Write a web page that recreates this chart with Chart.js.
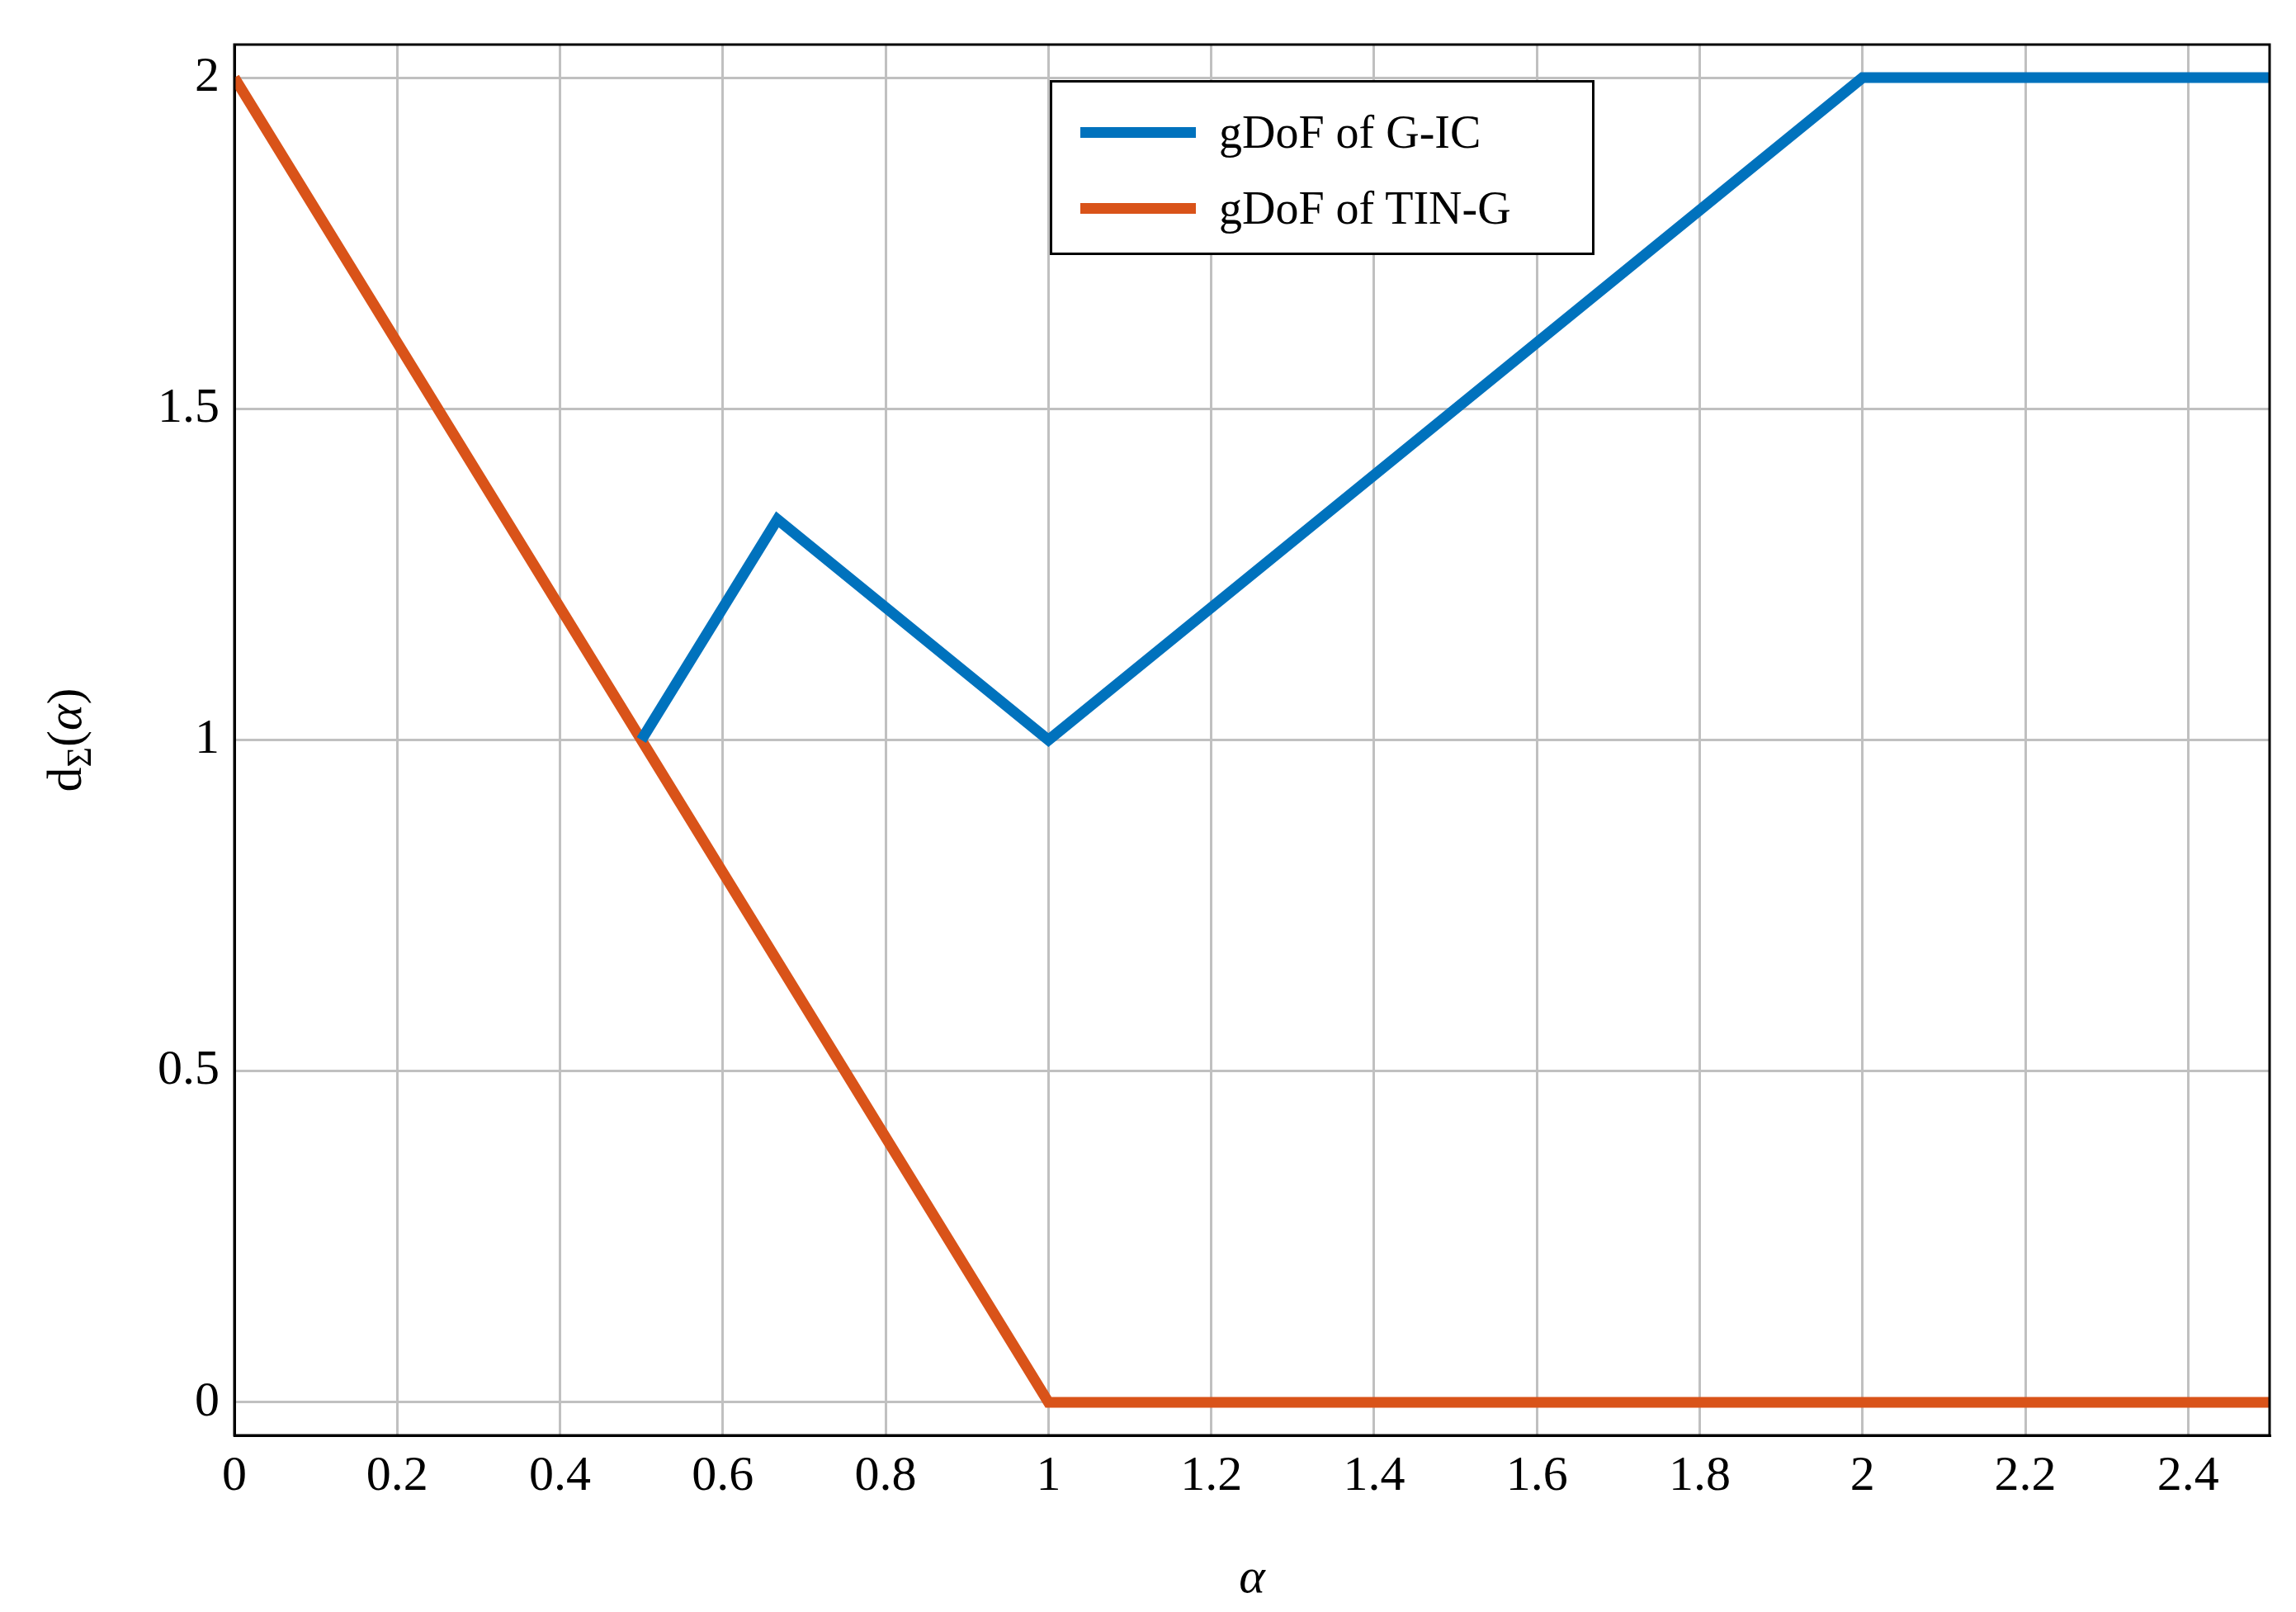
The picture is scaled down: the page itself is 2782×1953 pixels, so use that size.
<!DOCTYPE html>
<html>
<head>
<meta charset="utf-8">
<script src="https://cdn.jsdelivr.net/npm/chart.js@4/dist/chart.umd.min.js"></script>
<style>
    html, body { margin: 0; padding: 0; background: #fff; }
    #wrap { position: relative; width: 2782px; height: 1953px; }
    #legend {
        position: absolute; left: 1272px; top: 97px; width: 660px; height: 212px;
        border: 3px solid #000; background: #fff; box-sizing: border-box;
        font-family: "Liberation Serif", "DejaVu Serif", serif; font-size: 56px;
    }
    .row { display: flex; align-items: center; height: 92px; padding-left: 34px; }
    .row:first-child { margin-top: 14px; }
    .sw { width: 140px; height: 13px; margin-right: 28px; }
</style>
</head>
<body>
<div id="wrap">
    <canvas id="chart" width="2782" height="1953"></canvas>
    <div id="legend">
        <div class="row"><div class="sw" style="background:#0072BD"></div>gDoF of G-IC</div>
        <div class="row"><div class="sw" style="background:#D95319"></div>gDoF of TIN-G</div>
    </div>
</div>
<script>
// data
const gicAlpha = [0.5, 0.667, 1, 2, 2.5];
const gicValues = [1, 1.333, 1, 2, 2];
const tinAlpha = [0, 1, 2.5];
const tinValues = [2, 0, 0];
const xTicks = [0, 0.2, 0.4, 0.6, 0.8, 1, 1.2, 1.4, 1.6, 1.8, 2, 2.2, 2.4];
const yTicks = [0, 0.5, 1, 1.5, 2];

const FONT = '"Liberation Serif", "DejaVu Serif", serif';

function toPoints(xs, ys) {
    return xs.map((x, i) => ({ x: x, y: ys[i] }));
}

// y label with subscript Sigma
const yLabelPlugin = {
    id: 'yLabel',
    afterDraw(chart) {
        const ctx = chart.ctx;
        const area = chart.chartArea;
        ctx.save();
        ctx.translate(78, (area.top + area.bottom) / 2);
        ctx.rotate(-Math.PI / 2);
        ctx.fillStyle = '#000';
        ctx.textBaseline = 'alphabetic';
        const parts = [
            { t: 'd', f: '60px ' + FONT, dy: 0 },
            { t: 'Σ', f: '42px ' + FONT, dy: 12 },
            { t: '(', f: '60px ' + FONT, dy: 0 },
            { t: 'α', f: 'italic 60px ' + FONT, dy: 0 },
            { t: ')', f: '60px ' + FONT, dy: 0 }
        ];
        let total = 0;
        parts.forEach(p => { ctx.font = p.f; total += ctx.measureText(p.t).width; });
        let x = -total / 2;
        parts.forEach(p => {
            ctx.font = p.f;
            ctx.fillText(p.t, x, 20 + p.dy);
            x += ctx.measureText(p.t).width;
        });
        ctx.restore();
    }
};

new Chart(document.getElementById('chart').getContext('2d'), {
    type: 'line',
    data: {
        datasets: [{
            label: 'gDoF of G-IC',
            data: toPoints(gicAlpha, gicValues),
            borderColor: '#0072BD',
            borderWidth: 13,
            pointRadius: 0,
            tension: 0
        }, {
            label: 'gDoF of TIN-G',
            data: toPoints(tinAlpha, tinValues),
            borderColor: '#D95319',
            borderWidth: 13,
            pointRadius: 0,
            tension: 0
        }]
    },
    options: {
        responsive: false,
        animation: false,
        layout: { padding: { left: 84, right: 32, top: 44, bottom: 0 } },
        plugins: { legend: { display: false }, tooltip: { enabled: false } },
        scales: {
            x: {
                type: 'linear',
                min: 0,
                max: 2.5,
                afterBuildTicks: s => { s.ticks = xTicks.map(v => ({ value: v })); },
                afterFit: s => { s.height = 214; },
                grid: { color: '#c0c0c0', lineWidth: 3, drawTicks: false },
                border: { color: '#000', width: 3 },
                ticks: {
                    color: '#000', padding: 14, maxRotation: 0,
                    font: { family: FONT, size: 60 },
                    callback: v => String(Number(v.toFixed(1)))
                },
                title: {
                    display: true, text: 'α', color: '#000',
                    font: { family: FONT, size: 60, style: 'italic' }, padding: { top: 0 }
                }
            },
            y: {
                min: -0.05,
                max: 2.05,
                afterBuildTicks: s => { s.ticks = yTicks.map(v => ({ value: v })); },
                afterFit: s => { s.width = 200; },
                grid: { color: '#c0c0c0', lineWidth: 3, drawTicks: false },
                border: { color: '#000', width: 3 },
                ticks: {
                    color: '#000', padding: 18,
                    font: { family: FONT, size: 60 },
                    callback: v => String(v)
                }
            }
        }
    },
    plugins: [yLabelPlugin, {
        id: 'frame',
        afterDraw(chart) {
            const a = chart.chartArea, ctx = chart.ctx;
            ctx.save();
            ctx.strokeStyle = '#000';
            ctx.lineWidth = 3;
            ctx.strokeRect(a.left, a.top, a.right - a.left, a.bottom - a.top);
            ctx.restore();
        }
    }]
});
</script>
</body>
</html>
